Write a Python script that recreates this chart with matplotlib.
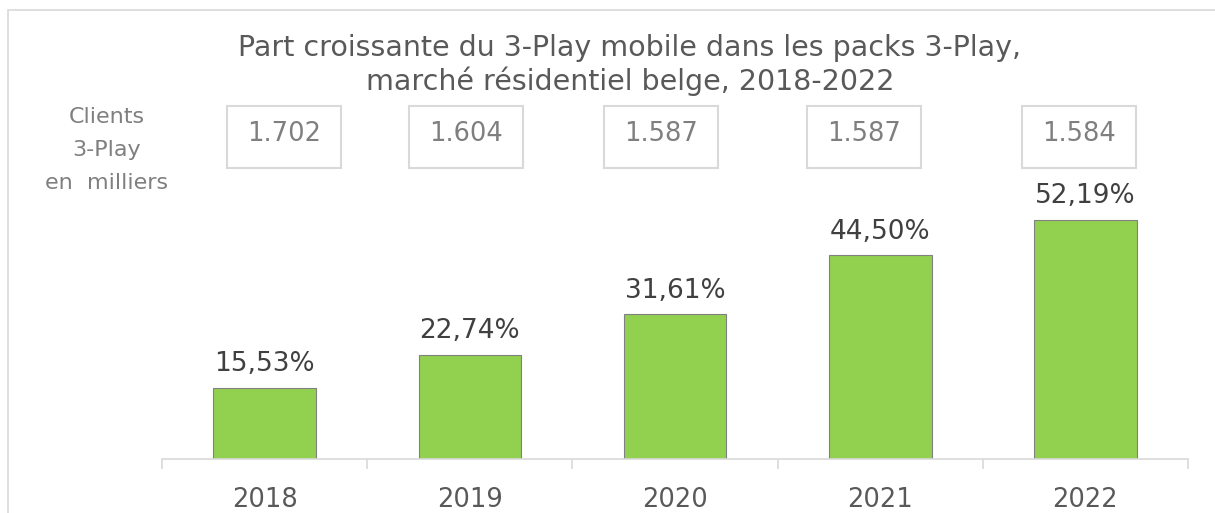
import matplotlib
matplotlib.use("Agg")
import matplotlib.pyplot as plt
from matplotlib.patches import Rectangle

years = ["2018", "2019", "2020", "2021", "2022"]
shares = [15.53, 22.74, 31.61, 44.50, 52.19]
share_labels = ["15,53%", "22,74%", "31,61%", "44,50%", "52,19%"]
clients = ["1.702", "1.604", "1.587", "1.587", "1.584"]
title = "Part croissante du 3-Play mobile dans les packs 3-Play,\nmarché résidentiel belge, 2018-2022"

W, H = 1215, 513
fig = plt.figure(figsize=(W / 100, H / 100), dpi=100)
plt.rcParams['font.family'] = ['DejaVu Sans']

# outer border
fig.patches.append(Rectangle((8 / W, -0.01), (W - 8) / W + 0.01, (H - 10) / H + 0.01,
                             transform=fig.transFigure, fill=False,
                             edgecolor="#d9d9d9", linewidth=1.2))

ax_left, ax_right, ax_bottom, ax_top = 162, 1188, 459, 184
ax = fig.add_axes([ax_left / W, 1 - ax_bottom / H, (ax_right - ax_left) / W,
                   (ax_bottom - ax_top) / H])
x = list(range(len(years)))
ax.bar(x, shares, width=0.5, color="#92D050", edgecolor="#808080", linewidth=0.8)
ax.set_xlim(-0.5, len(years) - 0.5)
ax.set_ylim(0, 60)
for xi, v, lab in zip(x, shares, share_labels):
    ax.annotate(lab, (xi, v), xytext=(0, 7.5), textcoords="offset points",
                ha="center", va="bottom", fontsize=19, color="#404040")

for s in ["top", "right", "left"]:
    ax.spines[s].set_visible(False)
ax.spines["bottom"].set_color("#d9d9d9")
ax.spines["bottom"].set_linewidth(1.2)
ax.set_yticks([])
ax.set_xticks([i - 0.5 for i in range(len(years) + 1)], minor=False)
ax.set_xticklabels([])
ax.tick_params(axis="x", length=7, color="#d9d9d9", width=1.2)
ax.set_xticks(x, minor=True)
ax.set_xticklabels(years, minor=True, fontsize=18.5, color="#595959")
ax.tick_params(axis="x", which="minor", length=0, pad=20)

# title
fig.text(630 / W, 1 - 65 / H, title, ha="center", va="center", fontsize=20.5,
         color="#595959", linespacing=1.22)

# left label
fig.text(107 / W, 1 - 150 / H, "Clients\n3-Play\nen  milliers", ha="center",
         va="center", fontsize=16, color="#7f7f7f", linespacing=1.8)

# client boxes
box_centers = [284, 466, 661, 864, 1079]
for cx, c in zip(box_centers, clients):
    fig.text(cx / W, 1 - 134 / H, c, ha="center", va="center", fontsize=18.5,
             color="#7f7f7f")
    fig.patches.append(Rectangle(((cx - 57) / W, 1 - 168 / H), 114 / W, 62 / H,
                                 transform=fig.transFigure, fill=False,
                                 edgecolor="#d9d9d9", linewidth=1.5))

fig.savefig("out.png", dpi=100)
